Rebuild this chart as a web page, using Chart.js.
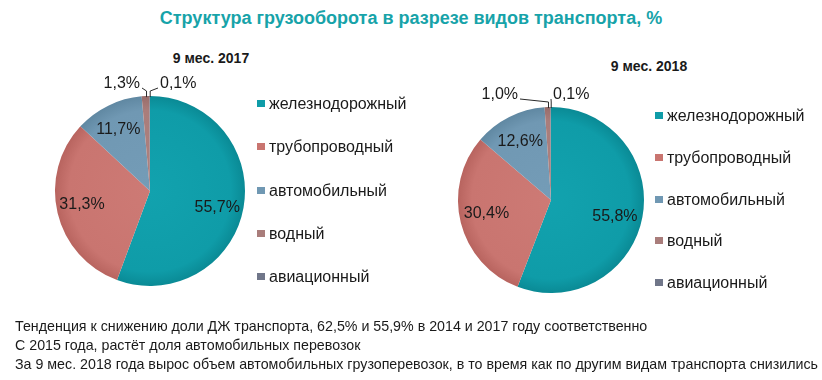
<!DOCTYPE html>
<html><head><meta charset="utf-8">
<script src="https://cdn.jsdelivr.net/npm/chart.js@4.4.1/dist/chart.umd.min.js"></script>
<style>
html,body{margin:0;padding:0;background:#fff}
body{width:822px;height:380px;position:relative;overflow:hidden;font-family:"Liberation Sans",Arial,sans-serif;color:#1a1a1a}
#title{position:absolute;left:0;width:822px;top:8px;text-align:center;font-weight:bold;font-size:18px;line-height:20px;color:#17a3a9;white-space:nowrap}
.sub{position:absolute;font-weight:bold;font-size:14px;line-height:16px;white-space:nowrap;transform:translateX(-50%)}
.cv{position:absolute}
.leg{position:absolute;font-size:16px;line-height:18px;white-space:nowrap;padding-left:12px}
.leg .sq{position:absolute;left:0;top:5px;width:8px;height:7px}
.note{position:absolute;left:15px;font-size:15px;line-height:18px;white-space:nowrap;transform-origin:0 50%}
</style></head><body>
<div id="title">Структура грузооборота в разрезе видов транспорта, %</div>
<div id="root"></div>
<script>
// ---- data ----
const categories = ['железнодорожный','трубопроводный','автомобильный','водный','авиационный'];
const values2017 = [55.7, 31.3, 11.7, 1.3, 0.1];
const values2018 = [55.8, 30.4, 12.6, 1.0, 0.1];
const periodLabels = ['9 мес. 2017', '9 мес. 2018'];
const notes = [
  'Тенденция к снижению доли ДЖ транспорта, 62,5% и 55,9% в 2014 и 2017 году соответственно',
  'С 2015 года, растёт доля автомобильных перевозок',
  'За 9 мес. 2018 года вырос объем автомобильных грузоперевозок, в то время как по другим видам транспорта снизились'
];

// ---- style ----
const baseColors = ['#0f9ca8','#c97570','#7098b3','#a97d7b','#707689'];
const lightColors = ['#12a2ae','#cd7a75','#749cb7','#ad817f','#747a8d'];
const darkColors  = ['#0a8a95','#b8645f','#6088a2','#986c6a','#626878'];
const labelAngleTweak = [0.07, 0.035, -0.02];
const layouts = [
  {left:40,  top:66, w:230, h:250, cx:110, cy:125, r:95, subX:211, subY:58, legX:257, legY0:104, legStep:43.3, gapL:10, gapR:10, inside:0.73},
  {left:440, top:75, w:230, h:250, cx:111, cy:125, r:93, subX:649, subY:66, legX:655, legY0:116, legStep:41.8, gapL:33, gapR:2, inside:0.71}
];
const noteY = [326, 345, 364];

const pieLabels = {
  id: 'pieLabels',
  afterDatasetsDraw(chart, args, opts) {
    const ctx = chart.ctx;
    const meta = chart.getDatasetMeta(0);
    const vals = chart.data.datasets[0].data;
    ctx.save();
    ctx.font = '16px "Liberation Sans", Arial, sans-serif';
    ctx.fillStyle = '#1a1a1a';
    ctx.strokeStyle = '#2a2a2a';
    ctx.lineWidth = 1;
    ctx.textBaseline = 'middle';
    let smallIdx = 0;
    meta.data.forEach((arc, i) => {
      const p = arc.getProps(['x','y','startAngle','endAngle','outerRadius'], true);
      const txt = vals[i].toFixed(1).replace('.', ',') + '%';
      const mid = (p.startAngle + p.endAngle) / 2;
      if (vals[i] >= 5) {
        const d = p.outerRadius * opts.inside;
        const a = mid + (labelAngleTweak[i] || 0);
        ctx.textAlign = 'center';
        ctx.fillText(txt, p.x + Math.cos(a) * d, p.y + Math.sin(a) * d);
      } else {
        const topY = p.y - p.outerRadius;
        const ly = topY - 12;
        const ex = p.x + Math.cos(mid) * p.outerRadius;
        const ey = p.y + Math.sin(mid) * p.outerRadius;
        ctx.beginPath();
        if (smallIdx === 0) {
          const tx = p.x - opts.gapL;
          ctx.textAlign = 'right';
          ctx.fillText(txt, tx, ly);
          ctx.moveTo(tx + 2, ly + 4);
          ctx.lineTo(ex + 1, ly + 7);
          ctx.lineTo(ex + 1, ey + 1);
        } else {
          const tx = p.x + opts.gapR;
          ctx.textAlign = 'left';
          ctx.fillText(txt, tx, ly);
          ctx.moveTo(tx - 2, ly + 4);
          ctx.lineTo(ex + 0.5, ly + 7);
          ctx.lineTo(ex + 0.5, ey + 1);
        }
        ctx.stroke();
        smallIdx++;
      }
    });
    ctx.restore();
  }
};

const root = document.getElementById('root');
[values2017, values2018].forEach((vals, k) => {
  const L = layouts[k];
  const sub = document.createElement('div');
  sub.className = 'sub';
  sub.style.left = L.subX + 'px';
  sub.style.top = (L.subY - 8) + 'px';
  sub.textContent = periodLabels[k];
  root.appendChild(sub);

  const wrap = document.createElement('div');
  wrap.className = 'cv';
  wrap.style.left = L.left + 'px'; wrap.style.top = L.top + 'px';
  wrap.style.width = L.w + 'px'; wrap.style.height = L.h + 'px';
  const cv = document.createElement('canvas');
  wrap.appendChild(cv);
  root.appendChild(wrap);

  categories.forEach((c, i) => {
    const d = document.createElement('div');
    d.className = 'leg';
    d.style.left = L.legX + 'px';
    d.style.top = (L.legY0 + i * L.legStep - 9) + 'px';
    const sq = document.createElement('span');
    sq.className = 'sq';
    sq.style.background = baseColors[i];
    d.appendChild(sq);
    d.appendChild(document.createTextNode(c));
    root.appendChild(d);
  });

  new Chart(cv, {
    type: 'pie',
    data: {
      labels: categories,
      datasets: [{
        data: vals,
        borderWidth: 0,
        backgroundColor: (c) => {
          const i = c.dataIndex;
          const area = c.chart.chartArea;
          if (!area) return baseColors[i];
          const cx = (area.left + area.right) / 2, cy = (area.top + area.bottom) / 2;
          const r = Math.min(area.width, area.height) / 2;
          const g = c.chart.ctx.createRadialGradient(cx, cy, 0, cx, cy, r);
          g.addColorStop(0, lightColors[i]);
          g.addColorStop(0.85, baseColors[i]);
          g.addColorStop(1, darkColors[i]);
          return g;
        }
      }]
    },
    options: {
      responsive: true,
      maintainAspectRatio: false,
      animation: false,
      events: [],
      layout: { padding: { left: L.cx - L.r, top: L.cy - L.r, right: L.w - L.cx - L.r, bottom: L.h - L.cy - L.r } },
      plugins: {
        legend: { display: false },
        tooltip: { enabled: false },
        pieLabels: { inside: L.inside, gapL: L.gapL, gapR: L.gapR }
      }
    },
    plugins: [pieLabels]
  });
});

const noteEls = notes.map((t, i) => {
  const d = document.createElement('div');
  d.className = 'note';
  d.style.top = (noteY[i] - 9) + 'px';
  d.textContent = t;
  root.appendChild(d);
  return d;
});
const w3 = noteEls[2].getBoundingClientRect().width;
const sx = 803 / w3;
noteEls.forEach(d => { d.style.transform = 'scaleX(' + sx.toFixed(4) + ')'; });
</script>
</body></html>
